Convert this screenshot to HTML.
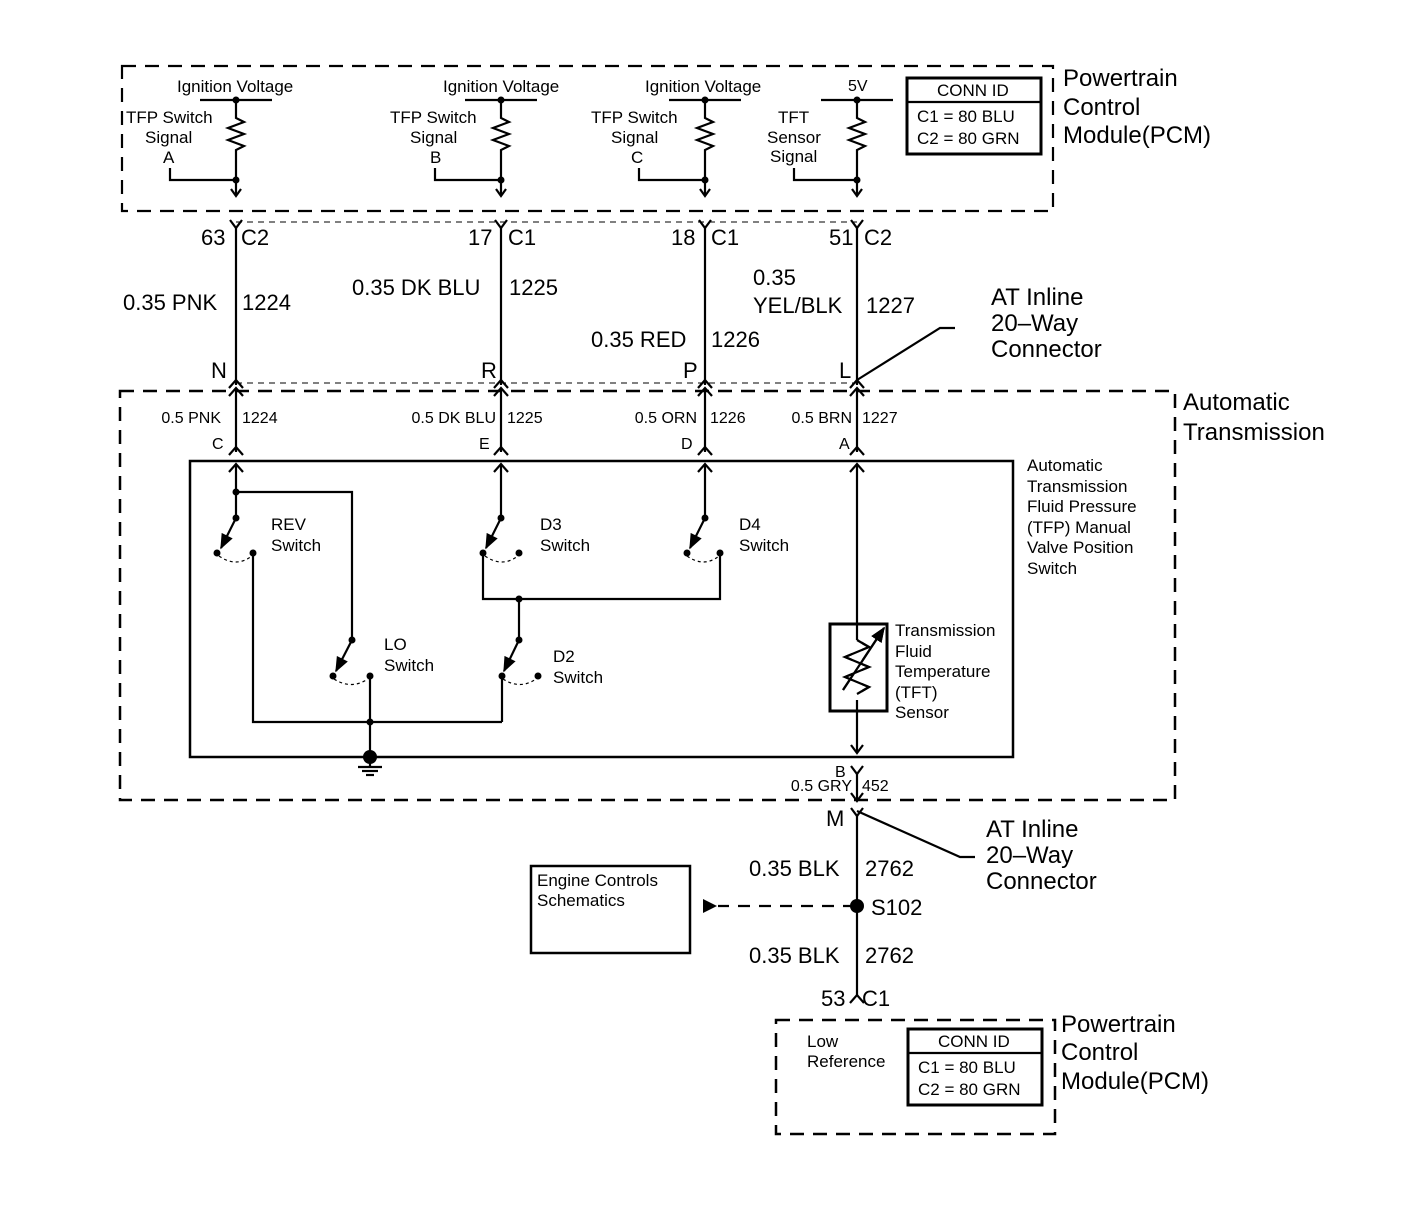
<!DOCTYPE html>
<html><head><meta charset="utf-8"><style>
html,body{margin:0;padding:0;background:#fff}
svg{display:block}
text{font-family:"Liberation Sans",Arial,sans-serif;fill:#000}
</style></head><body>
<svg width="1408" height="1220" viewBox="0 0 1408 1220" xmlns="http://www.w3.org/2000/svg">
<defs>
<marker id="ah" viewBox="0 0 10 10" refX="9" refY="5" markerWidth="7" markerHeight="7" orient="auto"><path d="M0,1 L10,5 L0,9 z" fill="#000"/></marker>
</defs>
<g fill="none" stroke="#000" stroke-width="2.2">
<rect x="122" y="66" width="931" height="145" stroke-dasharray="14,9"/>
<rect x="120" y="391" width="1055" height="409" stroke-dasharray="14,9" stroke-width="2.5"/>
<rect x="190" y="461" width="823" height="296" stroke-width="2.5"/>
<rect x="776" y="1020" width="279" height="114" stroke-dasharray="14,9" stroke-width="2.5"/>
<rect x="531" y="866" width="159" height="87" stroke-width="2.5"/>
<rect x="907" y="78" width="134" height="76" stroke-width="3"/>
<line x1="907" y1="102" x2="1041" y2="102"/>
<rect x="908" y="1029" width="134" height="76" stroke-width="3"/>
<line x1="908" y1="1053" x2="1042" y2="1053"/>
<line x1="236" y1="222" x2="857" y2="222" stroke-width="1" stroke-dasharray="6,5"/>
<line x1="236" y1="383" x2="857" y2="383" stroke-width="1" stroke-dasharray="6,5"/>
</g>

<g fill="none" stroke="#000" stroke-width="2.2">
<g id="c1">
<line x1="200" y1="100" x2="272" y2="100"/>
<path d="M236,100 V118 l8,4 l-16,6 l16,6 l-16,6 l16,6 l-8,4 V195"/>
<path d="M170,168 V180 H236"/>
<path d="M231,189 L236,196 L241,189"/>
</g>
<g transform="translate(265,0)">
<line x1="200" y1="100" x2="272" y2="100"/>
<path d="M236,100 V118 l8,4 l-16,6 l16,6 l-16,6 l16,6 l-8,4 V195"/>
<path d="M170,168 V180 H236"/>
<path d="M231,189 L236,196 L241,189"/>
</g>
<g transform="translate(469,0)">
<line x1="200" y1="100" x2="272" y2="100"/>
<path d="M236,100 V118 l8,4 l-16,6 l16,6 l-16,6 l16,6 l-8,4 V195"/>
<path d="M170,168 V180 H236"/>
<path d="M231,189 L236,196 L241,189"/>
</g>
<g transform="translate(621,0)">
<line x1="200" y1="100" x2="272" y2="100"/>
<path d="M236,100 V118 l8,4 l-16,6 l16,6 l-16,6 l16,6 l-8,4 V195"/>
<path d="M173,168 V180 H236"/>
<path d="M231,189 L236,196 L241,189"/>
</g>
</g>
<g fill="#000">
<circle cx="236" cy="100" r="3.5"/><circle cx="236" cy="180" r="3.5"/>
<circle cx="501" cy="100" r="3.5"/><circle cx="501" cy="180" r="3.5"/>
<circle cx="705" cy="100" r="3.5"/><circle cx="705" cy="180" r="3.5"/>
<circle cx="857" cy="100" r="3.5"/><circle cx="857" cy="180" r="3.5"/>
</g>

<g fill="none" stroke="#000" stroke-width="2.2">
<g id="w">
<path d="M230,220 L236,228 L242,220"/>
<line x1="236" y1="228" x2="236" y2="385"/>
<path d="M229,388 L236,380 L243,388"/>
<path d="M229,396 L236,388 L243,396"/>
<line x1="236" y1="388" x2="236" y2="452"/>
<path d="M229,455 L236,447 L243,455"/>
<path d="M229,472 L236,464 L243,472"/>
</g>
<use href="#w" x="265"/>
<use href="#w" x="469"/>
<use href="#w" x="621"/>

<line x1="236" y1="464" x2="236" y2="518"/>
<path d="M236,492 H352 V640"/>
<line x1="236" y1="518" x2="221" y2="548" marker-end="url(#ah)"/>
<path d="M219,556 Q236,568 252,556" stroke-width="1.2" stroke-dasharray="3,3"/>
<path d="M253,553 V722 H502"/>
<line x1="352" y1="640" x2="336" y2="671" marker-end="url(#ah)"/>
<path d="M334,679 Q351,690 368,679" stroke-width="1.2" stroke-dasharray="3,3"/>
<line x1="370" y1="676" x2="370" y2="757"/>
<line x1="501" y1="464" x2="501" y2="518"/>
<line x1="501" y1="518" x2="486" y2="548" marker-end="url(#ah)"/>
<path d="M485,556 Q502,568 518,556" stroke-width="1.2" stroke-dasharray="3,3"/>
<path d="M483,553 V599 H720 V553"/>
<line x1="705" y1="464" x2="705" y2="518"/>
<line x1="705" y1="518" x2="690" y2="548" marker-end="url(#ah)"/>
<path d="M687,556 Q704,568 719,556" stroke-width="1.2" stroke-dasharray="3,3"/>
<line x1="519" y1="599" x2="519" y2="640"/>
<line x1="519" y1="640" x2="504" y2="671" marker-end="url(#ah)"/>
<path d="M503,679 Q520,690 536,679" stroke-width="1.2" stroke-dasharray="3,3"/>
<line x1="502" y1="676" x2="502" y2="722"/>
<line x1="358" y1="767" x2="382" y2="767"/>
<line x1="362" y1="771" x2="378" y2="771"/>
<line x1="366" y1="775" x2="374" y2="775"/>
<line x1="370" y1="757" x2="370" y2="767"/>
<line x1="857" y1="464" x2="857" y2="752"/>
<rect x="830" y="624" width="57" height="87" stroke-width="3"/>
<path d="M857,640 l12,7 l-24,10 l24,10 l-24,10 l24,10 l-12,7" fill="none" fill-opacity="0"/>
<line x1="843" y1="690" x2="884" y2="628" marker-end="url(#ah)"/>
<path d="M851,745 L857,753 L863,745"/>
<path d="M851,766 L857,774 L863,766"/>
<line x1="857" y1="774" x2="857" y2="800"/>
<path d="M851,793 L857,801 L863,793"/>
<path d="M851,808 L857,816 L863,808"/>
<line x1="857" y1="816" x2="857" y2="995"/>
<path d="M850,1003 L857,995 L864,1003"/>
<path d="M857,380 L940,328 H955"/>
<path d="M857,811 L960,857 H975"/>
<line x1="855" y1="906" x2="718" y2="906" stroke-dasharray="12,9"/>
</g>
<rect x="852" y="640" width="10" height="60" fill="#fff"/>
<path d="M857,640 l12,7 l-24,10 l24,10 l-24,10 l24,10 l-12,7" fill="none" stroke="#000" stroke-width="2.2"/>
<line x1="843" y1="690" x2="884" y2="628" stroke="#000" stroke-width="2.2" marker-end="url(#ah)"/>
<polygon points="703,899 717,906 703,913" fill="#000"/>

<g fill="#000">
<circle cx="236" cy="492" r="3.5"/><circle cx="236" cy="518" r="3.5"/>
<circle cx="217" cy="553" r="3.5"/><circle cx="253" cy="553" r="3.5"/>
<circle cx="352" cy="640" r="3.5"/><circle cx="333" cy="676" r="3.5"/><circle cx="370" cy="676" r="3.5"/>
<circle cx="370" cy="722" r="3.5"/><circle cx="370" cy="757" r="7"/>
<circle cx="501" cy="518" r="3.5"/><circle cx="483" cy="553" r="3.5"/><circle cx="519" cy="553" r="3.5"/>
<circle cx="705" cy="518" r="3.5"/><circle cx="687" cy="553" r="3.5"/><circle cx="720" cy="553" r="3.5"/>
<circle cx="519" cy="599" r="3.5"/><circle cx="519" cy="640" r="3.5"/>
<circle cx="502" cy="676" r="3.5"/><circle cx="538" cy="676" r="3.5"/>
<circle cx="857" cy="906" r="7"/>
</g>

<g font-size="17">
<text x="177" y="92">Ignition Voltage</text>
<text x="443" y="92">Ignition Voltage</text>
<text x="645" y="92">Ignition Voltage</text>
<text x="848" y="91" font-size="16">5V</text>
<text x="126" y="123">TFP Switch</text>
<text x="145" y="143">Signal</text>
<text x="163" y="163">A</text>
<text x="390" y="123">TFP Switch</text>
<text x="410" y="143">Signal</text>
<text x="430" y="163">B</text>
<text x="591" y="123">TFP Switch</text>
<text x="611" y="143">Signal</text>
<text x="631" y="163">C</text>
<text x="778" y="123">TFT</text>
<text x="767" y="143">Sensor</text>
<text x="770" y="162">Signal</text>
<text x="937" y="96">CONN ID</text>
<text x="917" y="122">C1 = 80 BLU</text>
<text x="917" y="144">C2 = 80 GRN</text>
<text x="938" y="1047">CONN ID</text>
<text x="918" y="1073">C1 = 80 BLU</text>
<text x="918" y="1095">C2 = 80 GRN</text>
</g>
<g font-size="24">
<text x="1063" y="86">Powertrain</text>
<text x="1063" y="115">Control</text>
<text x="1063" y="143">Module(PCM)</text>
<text x="1061" y="1032">Powertrain</text>
<text x="1061" y="1060">Control</text>
<text x="1061" y="1089">Module(PCM)</text>
<text x="1183" y="410">Automatic</text>
<text x="1183" y="440">Transmission</text>
<text x="991" y="305">AT Inline</text>
<text x="991" y="331">20–Way</text>
<text x="991" y="357">Connector</text>
<text x="986" y="837">AT Inline</text>
<text x="986" y="863">20–Way</text>
<text x="986" y="889">Connector</text>
</g>
<g font-size="22">
<text x="201" y="245">63</text><text x="241" y="245">C2</text>
<text x="468" y="245">17</text><text x="508" y="245">C1</text>
<text x="671" y="245">18</text><text x="711" y="245">C1</text>
<text x="829" y="245">51</text><text x="864" y="245">C2</text>
<text x="123" y="310">0.35 PNK</text><text x="242" y="310">1224</text>
<text x="352" y="295">0.35 DK BLU</text><text x="509" y="295">1225</text>
<text x="591" y="347">0.35 RED</text><text x="711" y="347">1226</text>
<text x="753" y="285">0.35</text>
<text x="753" y="313">YEL/BLK</text><text x="866" y="313">1227</text>
<text x="211" y="378">N</text>
<text x="481" y="378">R</text>
<text x="683" y="378">P</text>
<text x="839" y="378">L</text>
<text x="826" y="826">M</text>
<text x="749" y="876">0.35 BLK</text><text x="865" y="876">2762</text>
<text x="871" y="915">S102</text>
<text x="749" y="963">0.35 BLK</text><text x="865" y="963">2762</text>
<text x="821" y="1006">53</text><text x="862" y="1006">C1</text>
</g>
<g font-size="16">
<text x="221" y="423" text-anchor="end">0.5 PNK</text><text x="242" y="423">1224</text>
<text x="496" y="423" text-anchor="end">0.5 DK BLU</text><text x="507" y="423">1225</text>
<text x="697" y="423" text-anchor="end">0.5 ORN</text><text x="710" y="423">1226</text>
<text x="852" y="423" text-anchor="end">0.5 BRN</text><text x="862" y="423">1227</text>
<text x="212" y="449">C</text>
<text x="479" y="449">E</text>
<text x="681" y="449">D</text>
<text x="839" y="449">A</text>
<text x="835" y="777">B</text>
<text x="852" y="791" text-anchor="end">0.5 GRY</text><text x="862" y="791">452</text>
</g>
<g font-size="17">
<text x="1027" y="471">Automatic</text>
<text x="1027" y="492">Transmission</text>
<text x="1027" y="512">Fluid Pressure</text>
<text x="1027" y="533">(TFP) Manual</text>
<text x="1027" y="553">Valve Position</text>
<text x="1027" y="574">Switch</text>
<text x="271" y="530">REV</text><text x="271" y="551">Switch</text>
<text x="540" y="530">D3</text><text x="540" y="551">Switch</text>
<text x="739" y="530">D4</text><text x="739" y="551">Switch</text>
<text x="384" y="650">LO</text><text x="384" y="671">Switch</text>
<text x="553" y="662">D2</text><text x="553" y="683">Switch</text>
<text x="895" y="636">Transmission</text>
<text x="895" y="657">Fluid</text>
<text x="895" y="677">Temperature</text>
<text x="895" y="698">(TFT)</text>
<text x="895" y="718">Sensor</text>
<text x="537" y="886">Engine Controls</text>
<text x="537" y="906">Schematics</text>
<text x="807" y="1047">Low</text>
<text x="807" y="1067">Reference</text>
</g>
</svg>
</body></html>
